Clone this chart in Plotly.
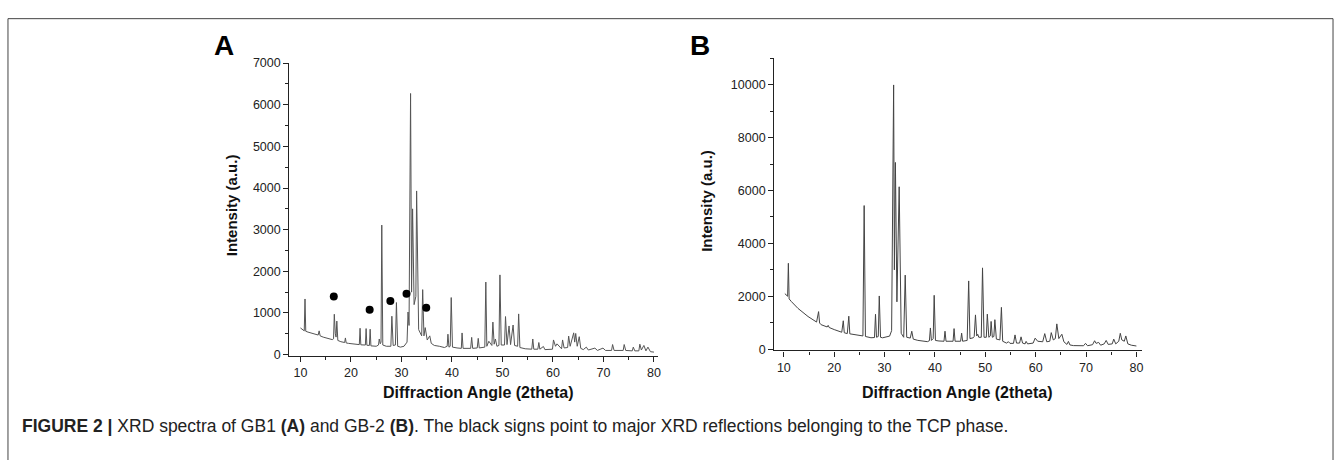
import plotly.graph_objects as go

# ---------------- Data ----------------
# Panel A: GB1 XRD trace (2theta, intensity)
a_theta = [10.0, 10.4, 10.75, 10.9, 11.05, 11.5, 12.5, 13.5, 13.7, 13.9, 14.5, 15.5, 16.3,
           16.55, 16.7, 16.9, 17.05, 17.2, 17.4, 18.0, 18.75, 18.9, 19.05, 19.5, 21.0, 21.65,
           21.8, 21.95, 22.85, 23.0, 23.15, 23.65, 23.8, 23.95, 25.0, 25.45, 25.6, 25.8, 25.95,
           26.1, 26.3, 27.0, 27.9, 28.1, 28.35, 28.8, 29.0, 29.25, 29.8, 30.5, 31.1, 31.3, 31.5,
           31.8, 32.0, 32.2, 32.5, 32.85, 33.0, 33.4, 34.0, 34.2, 34.45, 34.7, 35.1, 35.6, 35.9,
           36.5, 37.5, 38.5, 39.05, 39.2, 39.4, 39.65, 39.85, 40.1, 41.0, 41.85, 42.0, 42.2, 43.7,
           43.9, 44.1, 45.0, 45.2, 45.4, 46.5, 46.7, 46.9, 47.3, 47.9, 48.1, 48.35, 48.6, 48.9,
           49.3, 49.5, 49.75, 50.4, 50.6, 50.9, 51.3, 51.6, 52.1, 52.4, 53.0, 53.2, 53.45, 54.5,
           55.8, 56.0, 56.2, 57.0, 57.2, 57.4, 58.1, 58.4, 59.9, 60.1, 60.5, 60.8, 61.7, 61.9,
           62.2, 62.9, 63.1, 63.4, 64.1, 64.3, 64.5, 64.8, 65.2, 65.5, 66.0, 66.6, 67.0, 68.3,
           68.8, 69.9, 70.4, 71.6, 71.8, 72.1, 73.9, 74.1, 74.4, 75.7, 75.9, 76.2, 77.0, 77.2,
           77.5, 78.0, 78.4, 78.8, 79.3, 80.0]
a_int = [640, 600, 570, 1336, 560, 540, 500, 470, 570, 450, 420, 380, 360,
         380, 969, 500, 420, 805, 340, 310, 290, 400, 280, 270, 240, 240,
         633, 235, 230, 625, 225, 220, 610, 210, 200, 230, 375, 260, 300,
         3110, 230, 200, 200, 922, 220, 230, 1250, 200, 180, 200, 300, 1023, 700,
         6270, 1500, 3500, 1200, 1400, 3930, 600, 450, 1560, 450, 648, 350, 450, 270,
         220, 200, 170, 200, 490, 180, 200, 1370, 180, 160, 150, 520, 150, 150,
         414, 150, 160, 390, 160, 180, 1742, 200, 320, 220, 781, 250, 375, 200,
         220, 1914, 230, 230, 914, 240, 688, 240, 711, 220, 200, 977, 170, 140,
         130, 375, 130, 130, 290, 130, 195, 120, 130, 352, 200, 258, 140, 352,
         160, 170, 445, 200, 523, 300, 508, 200, 430, 150, 120, 180, 110, 156,
         100, 156, 100, 100, 242, 100, 100, 242, 100, 90, 180, 90, 90, 250,
         110, 220, 90, 180, 70, 60]

# TCP reflection markers (panel A)
tcp_theta = [16.6, 23.7, 27.8, 31.0, 34.9]
tcp_int = [1398, 1078, 1289, 1461, 1125]

# Panel B: GB-2 XRD trace (2theta, intensity)
b_theta = [10.2, 10.5, 10.75, 10.9, 11.05, 11.5, 12.8, 14.8, 16.5, 16.9, 17.1, 17.4, 18.6,
           18.8, 19.0, 20.0, 21.5, 21.8, 22.0, 22.6, 22.9, 23.1, 24.0, 25.0, 25.7, 25.95,
           26.2, 27.3, 28.0, 28.2, 28.4, 28.75, 28.95, 29.2, 29.6, 31.0, 31.4, 31.8, 31.95,
           32.15, 32.45, 32.9, 33.3, 33.8, 34.1, 34.4, 35.1, 35.4, 35.7, 36.6, 38.5, 38.9,
           39.1, 39.3, 39.65, 39.85, 40.1, 40.8, 41.8, 42.0, 42.2, 43.6, 43.8, 44.0, 45.1,
           45.3, 45.5, 46.4, 46.7, 46.95, 47.6, 47.8, 48.05, 48.3, 48.5, 48.7, 49.2, 49.45,
           49.75, 50.2, 50.4, 50.7, 51.0, 51.15, 51.4, 51.7, 51.9, 52.2, 52.9, 53.2, 53.45,
           54.2, 54.6, 54.9, 55.6, 55.9, 56.2, 56.8, 57.1, 57.4, 57.9, 58.1, 58.4, 59.5,
           59.9, 60.4, 61.4, 61.8, 62.2, 62.8, 63.1, 63.5, 63.9, 64.2, 64.6, 65.2, 65.6,
           66.2, 66.5, 66.8, 67.5, 69.5, 69.9, 70.3, 71.3, 71.7, 72.0, 72.5, 72.9, 73.6,
           74.0, 74.4, 75.2, 75.5, 75.9, 76.5, 76.8, 77.1, 77.6, 77.9, 78.3, 79.0, 80.0]
b_int = [2100, 2050, 2000, 3247, 1900, 1800, 1543, 1235, 1025, 1420, 990, 926, 840,
         900, 820, 741, 640, 1074, 620, 590, 1247, 580, 556, 519, 500, 5430,
         480, 432, 440, 1320, 450, 480, 2012, 450, 430, 494, 700, 9990, 3000,
         7060, 1790, 6140, 600, 450, 2800, 450, 420, 679, 380, 333, 284, 320,
         802, 330, 400, 2037, 330, 309, 300, 679, 300, 300, 778, 300, 300,
         605, 300, 330, 2580, 400, 430, 480, 1296, 500, 564, 450, 450, 3074,
         450, 450, 1324, 450, 500, 1049, 450, 480, 1115, 380, 350, 1581, 300,
         230, 282, 220, 220, 539, 230, 230, 466, 230, 200, 294, 200, 230,
         417, 300, 280, 588, 280, 300, 625, 350, 400, 956, 400, 564, 280,
         180, 294, 160, 135, 130, 220, 130, 170, 319, 220, 257, 150, 200,
         330, 180, 200, 380, 200, 300, 600, 350, 300, 500, 200, 150, 120]

x_ticks = [10, 20, 30, 40, 50, 60, 70, 80]
a_yticks = [0, 1000, 2000, 3000, 4000, 5000, 6000, 7000]
b_yticks = [0, 2000, 4000, 6000, 8000, 10000]

x_title = "Diffraction Angle (2theta)"
y_title = "Intensity (a.u.)"
caption = ("<b>FIGURE 2 |</b> XRD spectra of GB1 <b>(A)</b> and GB-2 <b>(B)</b>. "
           "The black signs point to major XRD reflections belonging to the TCP phase.")

# ---------------- Figure ----------------
W, H = 1344, 466
FONT = "Liberation Sans, Arial, sans-serif"

def px(x):
    return x / W

def py(y):
    return 1 - y / H

fig = go.Figure()
fig.add_trace(go.Scatter(x=a_theta, y=a_int, mode="lines",
                         line=dict(color="#555555", width=1), xaxis="x", yaxis="y",
                         showlegend=False, hoverinfo="skip"))
fig.add_trace(go.Scatter(x=tcp_theta, y=tcp_int, mode="markers",
                         marker=dict(color="black", size=8, symbol="circle"),
                         xaxis="x", yaxis="y", showlegend=False))
fig.add_trace(go.Scatter(x=b_theta, y=b_int, mode="lines",
                         line=dict(color="#444444", width=1), xaxis="x2", yaxis="y2",
                         showlegend=False, hoverinfo="skip"))

axis_common = dict(showgrid=False, zeroline=False, showline=True, linecolor="#222222",
                   linewidth=1.3, ticks="outside", ticklen=5, tickwidth=1.2,
                   tickcolor="#222222", tickfont=dict(family=FONT, size=12.5, color="#222222"),
                   minor=dict(ticks="outside", ticklen=3, tickwidth=1, tickcolor="#222222"))

fig.update_layout(
    width=W, height=H, margin=dict(l=0, r=0, t=0, b=0), autosize=False,
    paper_bgcolor="white", plot_bgcolor="white",
    xaxis=dict(domain=[px(290), px(659)], range=[7.8, 80.7], tickvals=x_ticks,
               anchor="y", minor_dtick=5, **axis_common),
    yaxis=dict(domain=[py(359.3), py(57.7)], range=[-40, 7000], tickvals=a_yticks,
               ticktext=[str(v) for v in a_yticks],
               anchor="x", minor_dtick=500, **axis_common),
    xaxis2=dict(domain=[px(776), px(1145)], range=[8.1, 81.2], tickvals=x_ticks,
                anchor="y2", minor_dtick=5, **axis_common),
    yaxis2=dict(domain=[py(353.3), py(52.7)], range=[-48, 11000], tickvals=b_yticks,
                ticktext=[str(v) for v in b_yticks],
                anchor="x2", minor_dtick=1000, **axis_common),
)

def label(text, x, y, size, angle=0, xanchor="center", color="#111111"):
    return dict(text=text, x=px(x), y=py(y), xref="paper", yref="paper",
                xanchor=xanchor, yanchor="middle", textangle=angle, showarrow=False,
                font=dict(family=FONT, size=size, color=color))

ann = [
    label("<b>A</b>", 225, 40, 28, color="black"),
    label("<b>B</b>", 702, 40, 28, color="black"),
    label("<b>" + y_title + "</b>", 231.5, 204, 15, angle=-90),
    label("<b>" + y_title + "</b>", 708, 199, 15, angle=-90),
    label("<b>" + x_title + "</b>", 480, 397, 16),
    label("<b>" + x_title + "</b>", 960, 397, 16),
    label(caption, 20, 431, 17.5, xanchor="left", color="#222222"),
]
fig.update_layout(annotations=ann)

frame = dict(type="line", xref="paper", yref="paper", line=dict(color="#444444", width=1))
fig.update_layout(shapes=[
    dict(frame, x0=px(8), x1=px(1336), y0=py(12), y1=py(12)),
    dict(frame, x0=px(8), x1=px(8), y0=py(12), y1=0),
    dict(frame, x0=px(1336), x1=px(1336), y0=py(12), y1=0),
])

fig.write_html("out.html", config={"displayModeBar": False},
               post_script="document.body.style.margin='0px';"
                           "document.body.style.overflow='hidden';")
